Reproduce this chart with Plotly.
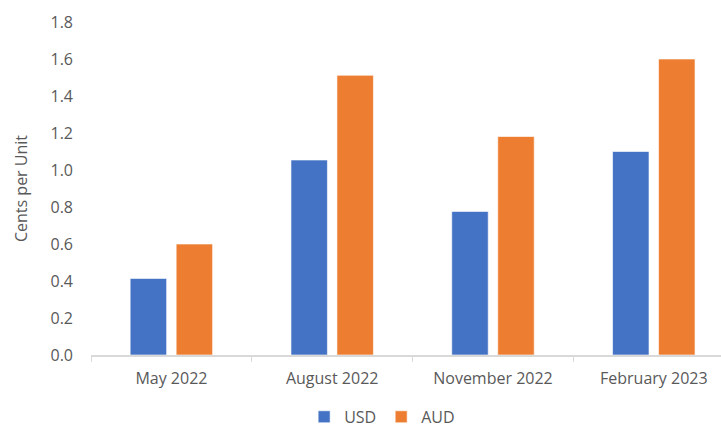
import plotly.graph_objects as go

categories = ["May 2022", "August 2022", "November 2022", "February 2023"]
usd = [0.414, 1.054, 0.776, 1.10]
aud = [0.60, 1.512, 1.181, 1.60]
yticks = [0.0, 0.2, 0.4, 0.6, 0.8, 1.0, 1.2, 1.4, 1.6, 1.8]

font_family = "Open Sans"
gray = "#595959"

fig = go.Figure()
fig.add_trace(go.Bar(name="USD", x=categories, y=usd, marker=dict(color="#4472C4", line=dict(color="rgba(255,255,255,0.6)", width=1))))
fig.add_trace(go.Bar(name="AUD", x=categories, y=aud, marker=dict(color="#ED7D31", line=dict(color="rgba(255,255,255,0.6)", width=1))))

fig.update_layout(
    width=721, height=428,
    margin=dict(l=91, r=0, t=22, b=72.5, autoexpand=False),
    paper_bgcolor="white", plot_bgcolor="white",
    barmode="group", bargap=0.428, bargroupgap=0.207,
    font=dict(family=font_family, size=16, color=gray),
    showlegend=True,
    legend=dict(orientation="h", xref="container", yref="container", x=0.53, xanchor="center",
                y=0.026, yanchor="middle",
                font=dict(size=16, color=gray), itemwidth=30, traceorder="normal"),
    xaxis=dict(range=[-0.5, 3.418], showline=True, linecolor="#D9D9D9", linewidth=1.5,
               ticks="outside", tickson="boundaries", ticklen=5, tickcolor="#D9D9D9",
               showgrid=False, tickfont=dict(size=16, color=gray), ticklabelstandoff=8),
    yaxis=dict(range=[0, 1.8], tickvals=yticks, ticktext=[f"{v:.1f}" for v in yticks],
               showgrid=False, zeroline=False, showline=False,
               tickfont=dict(size=16, color=gray), ticklabelstandoff=17,
               title=dict(text="Cents per Unit", font=dict(size=16, color=gray), standoff=18)),
)

fig.write_html("out.html")
